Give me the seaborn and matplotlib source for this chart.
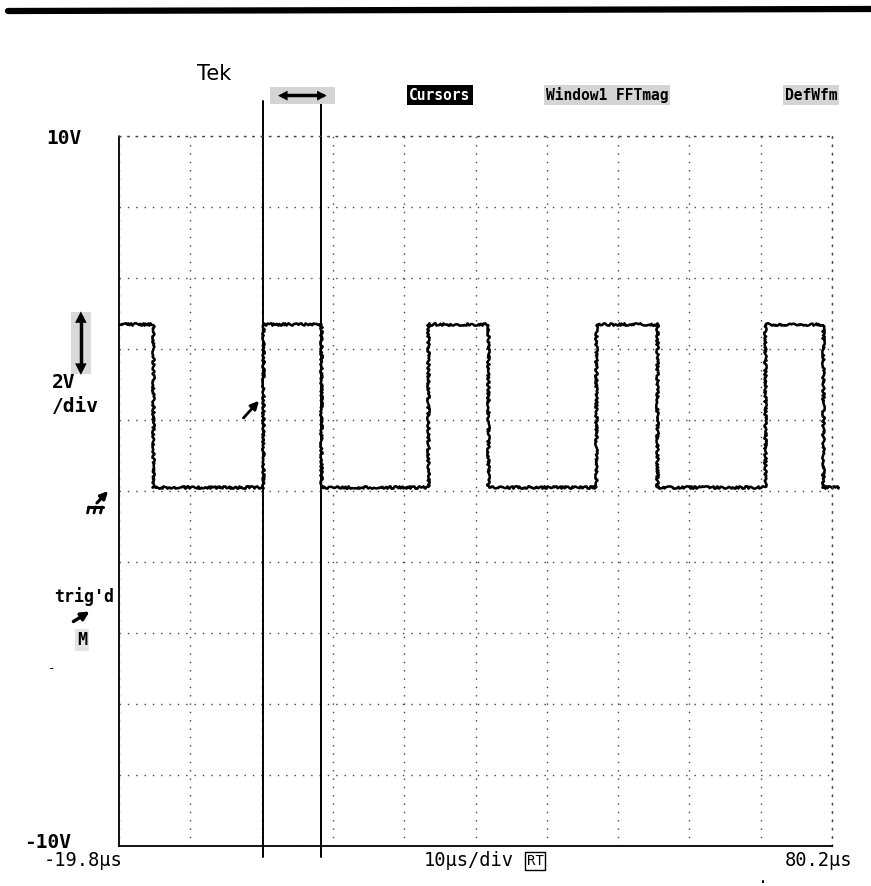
import seaborn as sns
import pandas as pd
from matplotlib import pyplot as plt

# trace: edge times (us) and the level held from each time on (V)
edge_times = [-19.8, -15.0, 0.4, 8.5, 23.5, 32.0, 47.1, 55.6, 70.8, 78.9, 81.0]
levels = [4.7, 0.1, 4.7, 0.1, 4.7, 0.1, 4.7, 0.1, 4.7, 0.1, 0.1]
cursor_times = [0.4, 8.5]

x_start, x_div, n_div = -19.8, 10, 10
y_min, y_max, v_div = -10, 10, 2

menu_labels = ["Cursors", "Window1 FFTmag", "DefWfm"]

W, H = 871, 886


def fx(px):
    return px / W


def fy(py):
    return 1 - py / H


sns.set_style("white")
plt.rcParams['font.family'] = ['DejaVu Sans Mono', 'DejaVu Sans']
plt.rcParams['text.color'] = 'black'

fig = plt.figure(figsize=(W / 100, H / 100), dpi=100)
ax = fig.add_axes([fx(119), fy(846), fx(832) - fx(119), fy(136) - fy(846)])

df = pd.DataFrame({"t": edge_times, "v": levels})
sns.lineplot(data=df, x="t", y="v", ax=ax, drawstyle="steps-post",
             color="black", linewidth=1.8, clip_on=False, sort=False)
ax.lines[0].set_sketch_params(scale=1.2, length=3, randomness=14)

ax.set_xlim(x_start, x_start + x_div * n_div)
ax.set_ylim(y_min, y_max)
ax.set_xticks([x_start + x_div * k for k in range(n_div + 1)])
ax.set_yticks(list(range(y_min, y_max + 1, v_div)))
ax.tick_params(length=0, labelbottom=False, labelleft=False)
ax.set(xlabel="", ylabel="")
ax.grid(True, color="#444444", linestyle=(0, (1, 5)), linewidth=1.0)

for side in ["top", "right"]:
    ax.spines[side].set_linestyle((0, (1, 5)))
    ax.spines[side].set_color("#444444")
    ax.spines[side].set_linewidth(1.0)
ax.spines["left"].set_linestyle((0, (1, 1)))
ax.spines["left"].set_color("black")
ax.spines["left"].set_linewidth(1.3)
ax.spines["bottom"].set_color("black")
ax.spines["bottom"].set_linewidth(1.3)

for t in cursor_times:
    ax.axvline(t, ymin=-0.015, ymax=1.05, color="black", linewidth=1.4, clip_on=False)

# trigger point marker
ax.annotate("", xy=(edge_times[2] - 0.3, 2.6), xytext=(edge_times[2] - 3.0, 2.0),
            arrowprops=dict(arrowstyle="-|>", color="black", lw=2, mutation_scale=12))

# scan artefact along the top
fig.add_artist(plt.Line2D([fx(8), fx(871)], [fy(11), fy(9)], color="black", linewidth=4.5))

# header
fig.text(fx(197), fy(74), "Tek", fontsize=15, va="center", ha="left", family="DejaVu Sans")
stipple = dict(boxstyle="square,pad=0.15", facecolor="#d4d4d4", edgecolor="none")
fig.add_artist(plt.Rectangle((fx(270), fy(104)), fx(65), fy(87) - fy(104),
                             facecolor="#d4d4d4", edgecolor="none"))
fig.add_artist(plt.Line2D([fx(282), fx(323)], [fy(95), fy(95)], color="black", linewidth=2.5))
fig.text(fx(283), fy(95), "\u25c0", fontsize=9, ha="center", va="center", family="DejaVu Sans")
fig.text(fx(322), fy(95), "\u25b6", fontsize=9, ha="center", va="center", family="DejaVu Sans")
fig.text(fx(440), fy(95), menu_labels[0], fontsize=10.5, fontweight="bold", color="white",
         ha="center", va="center",
         bbox=dict(boxstyle="square,pad=0.15", facecolor="black", edgecolor="none"))
fig.text(fx(607), fy(95), menu_labels[1], fontsize=10.5, fontweight="bold", ha="center",
         va="center", bbox=stipple)
fig.text(fx(811), fy(95), menu_labels[2], fontsize=10.5, fontweight="bold", ha="center",
         va="center", bbox=stipple)

# left side readouts
lab = dict(fontsize=14, fontweight="bold", va="center", ha="left")
fig.text(fx(46), fy(139), "10V", **lab)
fig.text(fx(52), fy(383), "2V", **lab)
fig.text(fx(52), fy(407), "/div", **lab)
fig.text(fx(24), fy(842), "-10V", **lab)
fig.add_artist(plt.Rectangle((fx(71), fy(374)), fx(20), fy(312) - fy(374),
                             facecolor="#d9d9d9", edgecolor="none"))
fig.add_artist(plt.Line2D([fx(81), fx(81)], [fy(318), fy(368)], color="black", linewidth=2.5))
fig.text(fx(81), fy(317), "\u25b2", fontsize=11, ha="center", va="center", family="DejaVu Sans")
fig.text(fx(81), fy(369), "\u25bc", fontsize=11, ha="center", va="center", family="DejaVu Sans")

# ground reference marker (no installed font has the ground sign)
ax_g = fig.add_axes([0, 0, 1, 1], facecolor="none")
ax_g.set_axis_off()
ax_g.set_xlim(0, W)
ax_g.set_ylim(H, 0)
ax_g.plot([88, 103], [507, 507], color="black", linewidth=2.2)
for gx in [89, 95.5, 102]:
    ax_g.plot([gx - 1.5, gx], [513, 507], color="black", linewidth=2)
ax_g.annotate("", xy=(110, 489), xytext=(95, 505),
              arrowprops=dict(arrowstyle="-|>", color="black", lw=2.2, mutation_scale=11))

fig.text(fx(54), fy(597), "trig'd", fontsize=12, fontweight="bold", va="center", ha="left")
ax_g.annotate("", xy=(92, 610), xytext=(71, 623),
              arrowprops=dict(arrowstyle="-|>", color="black", lw=2.4, mutation_scale=12))
fig.text(fx(82), fy(640), "M", fontsize=12, fontweight="bold", va="center", ha="center",
         bbox=dict(boxstyle="square,pad=0.1", facecolor="#e4e4e4", edgecolor="none"))
fig.text(fx(52), fy(669), "-", fontsize=9, va="center", ha="center")

# bottom readouts
bot = dict(fontsize=13.5, va="center")
fig.text(fx(44), fy(861), "-19.8\u03bcs", ha="left", **bot)
fig.text(fx(424), fy(861), "10\u03bcs/div", ha="left", **bot)
fig.text(fx(535), fy(861), "RT", fontsize=10, ha="center", va="center",
         bbox=dict(boxstyle="square,pad=0.15", facecolor="white", edgecolor="black", linewidth=1))
fig.text(fx(852), fy(861), "80.2\u03bcs", ha="right", **bot)
fig.text(fx(763), fy(878), ".", fontsize=12, ha="center", va="center")

fig.savefig("out.png", dpi=100)
